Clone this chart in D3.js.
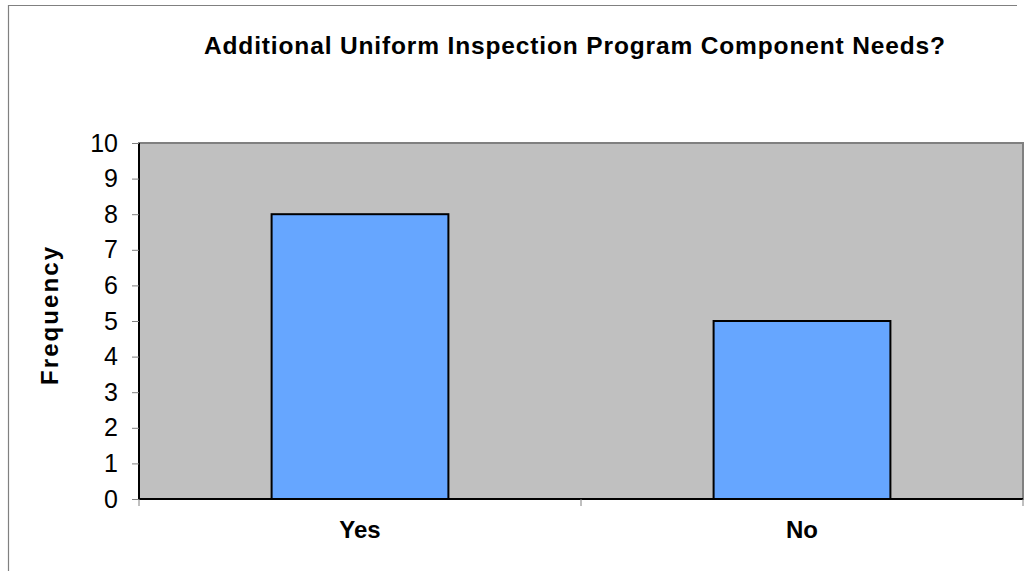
<!DOCTYPE html>
<html>
<head>
<meta charset="utf-8">
<style>
    body { margin: 0; background: #fff; }
    svg { display: block; font-family: Arial, 'Liberation Sans', sans-serif; }
    .y .tick text { font-size: 25px; fill: #000; }
</style>
</head>
<body>
<svg width="1026" height="571"></svg>
<script src="https://d3js.org/d3.v7.min.js"></script>
<script>
    let categories = ["Yes", "No"]
    let frequency = [8, 5]
    let yTicks = [0, 1, 2, 3, 4, 5, 6, 7, 8, 9, 10]

    let data = categories.map((c, i) => ({ cat: c, value: frequency[i] }))

    let margin = { top: 143, right: 3, bottom: 72, left: 139 }
    let width = 1026, height = 571

    let svg = d3.select("svg")

    // outer chart frame (cut off on the right)
    svg.append("path")
        .attr("d", "M8.5,571 V5.5 H1017")
        .attr("fill", "none")
        .attr("stroke", "#808080")
        .attr("stroke-width", 1.2)

    let x = d3.scaleBand()
        .domain(categories)
        .range([margin.left, width - margin.right])
        .paddingInner(0.6)
        .paddingOuter(0.3)

    let band = d3.scaleBand()
        .domain(categories)
        .range([margin.left, width - margin.right])

    let y = d3.scaleLinear()
        .domain([0, 10])
        .range([height - margin.bottom, margin.top])

    // plot area
    svg.append("rect")
        .attr("x", margin.left)
        .attr("y", y(10))
        .attr("width", width - margin.right - margin.left)
        .attr("height", y(0) - y(10))
        .attr("fill", "#c0c0c0")
        .attr("stroke", "#808080")
        .attr("stroke-width", 2)

    svg.append("g")
        .selectAll("rect")
        .data(data)
        .join("rect")
        .attr("x", d => x(d.cat))
        .attr("y", d => y(d.value))
        .attr("width", x.bandwidth())
        .attr("height", d => y(0) - y(d.value))
        .attr("fill", "#66a6ff")
        .attr("stroke", "#000")
        .attr("stroke-width", 2)

    // y axis
    svg.append("g")
        .attr("class", "y axis")
        .attr("transform", `translate(${margin.left},0)`)
        .call(d3.axisLeft(y).tickValues(yTicks).tickSize(7).tickPadding(14))
        .call(g => g.attr("font-size", null).attr("font-family", null))
        .call(g => g.select(".domain").attr("stroke", "#000").attr("stroke-width", 2).attr("d", `M0,${y(10)}V${y(0)}`))
        .call(g => g.selectAll(".tick line").attr("stroke", "#808080"))

    // x axis: category dividers
    let xg = svg.append("g")
        .attr("class", "x axis")
        .attr("transform", `translate(0,${y(0)})`)

    xg.append("line")
        .attr("x1", margin.left).attr("x2", width - margin.right)
        .attr("stroke", "#000").attr("stroke-width", 2)

    xg.selectAll(".div")
        .data(categories.concat(["end"]))
        .join("line")
        .attr("x1", (d, i) => i < categories.length ? band(d) : band.range()[1])
        .attr("x2", (d, i) => i < categories.length ? band(d) : band.range()[1])
        .attr("y1", 0).attr("y2", 7)
        .attr("stroke", "#808080")

    xg.selectAll(".lab")
        .data(categories)
        .join("text")
        .attr("x", d => band(d) + band.bandwidth() / 2)
        .attr("y", 39)
        .attr("text-anchor", "middle")
        .style("font-size", "24px")
        .style("font-weight", "bold")
        .text(d => d)

    svg.append("text")
        .attr("x", 204)
        .attr("y", 54)
        .attr("textLength", 741)
        .attr("lengthAdjust", "spacing")
        .style("font-size", "24.5px")
        .style("font-weight", "bold")
        .text("Additional Uniform Inspection Program Component Needs?")

    svg.append("text")
        .attr("transform", `translate(58,316) rotate(-90)`)
        .attr("x", -69)
        .attr("textLength", 138)
        .attr("lengthAdjust", "spacing")
        .style("font-size", "24px")
        .style("font-weight", "bold")
        .text("Frequency")
</script>
</body>
</html>
